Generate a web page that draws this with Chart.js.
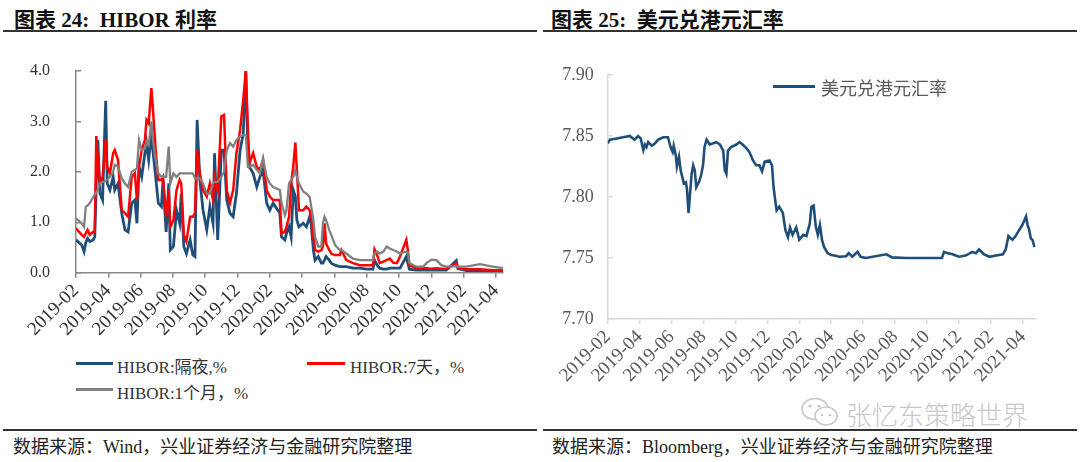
<!DOCTYPE html>
<html><head><meta charset="utf-8">
<script src="https://cdn.jsdelivr.net/npm/chart.js@4.4.1/dist/chart.umd.min.js"></script>
<style>
  html,body{margin:0;padding:0;background:#fff;}
  body{width:1080px;height:462px;position:relative;overflow:hidden;font-family:"Liberation Serif","Noto Sans CJK SC",serif;}
  .abs{position:absolute;white-space:nowrap;}
  .title{font-size:21px;font-weight:bold;color:#111;top:3px;}
  .hr{position:absolute;height:2px;background:#333;}
  .src{font-size:18px;color:#222;top:432px;}
  .leg{font-size:17px;color:#333;}
  .sw{position:absolute;height:3px;}
</style></head>
<body>
<div class="abs title" style="left:14px;">图表 24:&nbsp; HIBOR 利率</div>
<div class="abs title" style="left:551px;">图表 25:&nbsp; 美元兑港元汇率</div>
<div class="hr" style="left:3px;width:534px;top:30px;"></div>
<div class="hr" style="left:543px;width:534px;top:30px;"></div>
<div class="hr" style="left:3px;width:534px;top:429px;"></div>
<div class="hr" style="left:543px;width:534px;top:429px;"></div>
<div class="abs src" style="left:13px;">数据来源：Wind，兴业证券经济与金融研究院整理</div>
<div class="abs src" style="left:552px;">数据来源：Bloomberg，兴业证券经济与金融研究院整理</div>

<div style="position:absolute;left:0;top:50px;width:540px;height:300px;"><canvas id="c1" width="540" height="300"></canvas></div>
<div style="position:absolute;left:540px;top:50px;width:540px;height:340px;"><canvas id="c2" width="540" height="340"></canvas></div>

<div class="sw" style="left:76px;top:362px;width:37px;background:#1F4E79;"></div>
<div class="abs leg" style="left:117px;top:353px;">HIBOR:隔夜,%</div>
<div class="sw" style="left:307px;top:362px;width:38px;background:#FF0000;"></div>
<div class="abs leg" style="left:350px;top:353px;">HIBOR:7天，%</div>
<div class="sw" style="left:76px;top:388px;width:37px;background:#808080;"></div>
<div class="abs leg" style="left:117px;top:379px;">HIBOR:1个月，%</div>

<div class="sw" style="left:773px;top:85px;width:42px;background:#1F4E79;"></div>
<div class="abs" style="left:821px;top:74px;font-size:18px;color:#595959;">美元兑港元汇率</div>

<svg class="abs" style="left:800px;top:396px;" width="42" height="34" viewBox="0 0 42 34">
  <ellipse cx="15" cy="13" rx="13" ry="10.5" fill="#fff" stroke="#c8c8c8" stroke-width="1.6"/>
  <ellipse cx="26" cy="20" rx="11" ry="9" fill="#fff" stroke="#c8c8c8" stroke-width="1.6"/>
  <circle cx="10" cy="10" r="1.6" fill="#c8c8c8"/><circle cx="19" cy="10" r="1.6" fill="#c8c8c8"/>
  <circle cx="22" cy="19" r="1.3" fill="#c8c8c8"/><circle cx="30" cy="19" r="1.3" fill="#c8c8c8"/>
</svg>
<div class="abs" style="left:846px;top:395px;font-size:26px;color:#c8c8c8;font-family:'Noto Sans CJK SC';font-weight:300;">张忆东策略世界</div>

<script>
// ---------- data ----------
const xTickLabels = ["2019-02","2019-04","2019-06","2019-08","2019-10","2019-12","2020-02","2020-04","2020-06","2020-08","2020-10","2020-12","2021-02","2021-04"];
const xTickValues = [0,2,4,6,8,10,12,14,16,18,20,22,24,26];

const hiborDates = ["2019-02-01","2019-02-11","2019-02-15","2019-02-18","2019-02-21","2019-02-25","2019-03-03","2019-03-06","2019-03-09","2019-03-12","2019-03-16","2019-03-21","2019-03-27","2019-03-30","2019-04-04","2019-04-10","2019-04-13","2019-04-19","2019-04-26","2019-05-02","2019-05-08","2019-05-15","2019-05-21","2019-05-25","2019-05-29","2019-06-03","2019-06-09","2019-06-12","2019-06-16","2019-06-21","2019-06-24","2019-06-29","2019-07-04","2019-07-10","2019-07-13","2019-07-19","2019-07-24","2019-07-27","2019-08-02","2019-08-08","2019-08-14","2019-08-17","2019-08-22","2019-08-27","2019-09-03","2019-09-08","2019-09-12","2019-09-16","2019-09-21","2019-09-27","2019-10-04","2019-10-10","2019-10-16","2019-10-19","2019-10-25","2019-11-01","2019-11-06","2019-11-11","2019-11-17","2019-11-23","2019-11-29","2019-12-06","2019-12-12","2019-12-17","2019-12-21","2019-12-24","2019-12-31","2020-01-07","2020-01-13","2020-01-19","2020-01-26","2020-02-01","2020-02-07","2020-02-19","2020-02-22","2020-02-28","2020-03-02","2020-03-07","2020-03-11","2020-03-15","2020-03-19","2020-03-22","2020-03-26","2020-04-03","2020-04-09","2020-04-15","2020-04-18","2020-04-22","2020-04-25","2020-05-01","2020-05-07","2020-05-10","2020-05-13","2020-05-16","2020-05-22","2020-05-26","2020-06-02","2020-06-11","2020-06-14","2020-06-23","2020-07-06","2020-07-19","2020-08-01","2020-08-13","2020-08-16","2020-08-21","2020-08-26","2020-09-02","2020-09-08","2020-09-14","2020-09-20","2020-09-27","2020-10-03","2020-10-15","2020-10-18","2020-10-21","2020-11-03","2020-11-16","2020-11-22","2020-12-01","2020-12-11","2020-12-20","2020-12-30","2021-01-18","2021-01-21","2021-02-06","2021-03-01","2021-03-26","2021-04-14"];
const hiborON = [0.65,0.55,0.42,0.60,0.68,0.62,0.65,0.71,1.80,2.63,1.57,1.44,3.41,1.77,1.64,1.90,1.64,1.77,1.18,0.85,0.81,1.38,1.44,0.98,2.10,1.90,2.37,2.57,2.24,2.76,2.40,1.90,1.38,1.31,1.84,0.81,1.77,0.45,0.52,1.24,0.98,1.57,0.52,0.38,0.65,0.35,0.32,3.03,1.84,1.24,0.85,1.31,0.98,2.37,0.65,2.43,2.43,1.44,1.18,1.11,1.57,2.43,2.76,4.00,2.40,2.10,1.97,1.70,1.90,2.04,1.38,1.24,1.38,1.18,0.71,0.65,0.78,0.91,0.71,1.64,1.51,1.04,0.91,0.98,0.91,1.11,0.95,0.45,0.25,0.32,0.19,0.19,0.25,0.32,0.25,0.19,0.15,0.12,0.12,0.12,0.09,0.09,0.07,0.07,0.25,0.15,0.09,0.07,0.07,0.09,0.09,0.09,0.09,0.32,0.19,0.07,0.05,0.05,0.05,0.05,0.05,0.05,0.05,0.24,0.08,0.04,0.04,0.04,0.04];
const hibor7D = [0.88,0.75,0.71,0.78,0.85,0.75,0.81,0.81,2.71,2.20,1.77,1.90,2.63,2.10,1.97,2.37,2.43,2.24,1.24,1.18,1.11,1.90,1.97,1.44,2.10,2.43,2.63,3.03,2.96,3.66,3.23,2.43,1.84,1.84,1.90,1.11,1.64,0.91,1.04,1.64,1.84,1.77,0.75,0.62,1.11,1.11,1.18,2.43,1.97,1.64,1.51,1.77,1.44,1.90,1.64,3.10,3.13,1.64,1.38,1.64,2.37,2.83,3.43,4.00,2.83,2.17,2.37,2.10,2.04,2.24,1.64,1.51,1.44,1.44,0.78,0.81,0.91,1.11,1.77,2.10,2.58,2.04,1.24,1.24,1.31,1.24,1.11,0.71,0.45,0.42,0.45,0.52,0.98,0.58,0.45,0.38,0.35,0.35,0.45,0.25,0.19,0.15,0.15,0.15,0.46,0.35,0.19,0.22,0.25,0.28,0.20,0.19,0.32,0.65,0.45,0.15,0.09,0.09,0.09,0.08,0.09,0.08,0.08,0.18,0.10,0.07,0.07,0.05,0.05];
const hibor1M = [1.08,0.98,0.91,1.31,1.33,1.38,1.50,1.55,1.60,1.65,1.77,1.80,1.82,1.84,1.90,2.00,2.14,2.10,1.87,1.77,1.70,2.00,2.04,2.07,2.63,2.43,2.46,2.60,2.53,3.00,2.63,2.24,1.97,1.90,1.90,1.90,2.50,1.77,1.97,1.90,1.97,1.97,1.97,1.97,1.97,1.97,1.87,1.87,1.87,1.77,1.57,1.57,1.77,1.80,1.80,1.90,2.00,2.43,2.57,2.50,2.63,2.70,2.73,2.73,2.10,2.10,2.14,2.04,1.97,2.27,1.90,1.77,1.70,1.64,1.38,1.14,1.24,1.77,1.84,1.90,2.04,1.90,1.77,1.61,1.57,1.50,1.31,1.04,0.71,0.52,0.52,0.98,1.11,1.04,0.85,0.75,0.55,0.45,0.45,0.38,0.28,0.25,0.25,0.25,0.38,0.42,0.38,0.42,0.52,0.48,0.45,0.42,0.38,0.42,0.40,0.19,0.12,0.12,0.19,0.26,0.25,0.15,0.12,0.13,0.12,0.12,0.17,0.12,0.09];

const fxDates = ["2019-02-01","2019-02-05","2019-02-17","2019-02-28","2019-03-13","2019-03-22","2019-03-29","2019-04-03","2019-04-08","2019-04-11","2019-04-14","2019-04-17","2019-04-24","2019-04-30","2019-05-06","2019-05-16","2019-05-25","2019-05-30","2019-06-03","2019-06-05","2019-06-09","2019-06-11","2019-06-15","2019-06-18","2019-06-22","2019-06-24","2019-06-28","2019-06-30","2019-07-03","2019-07-05","2019-07-09","2019-07-12","2019-07-15","2019-07-18","2019-07-24","2019-07-28","2019-07-31","2019-08-03","2019-08-07","2019-08-13","2019-08-20","2019-08-26","2019-09-02","2019-09-08","2019-09-11","2019-09-14","2019-09-17","2019-09-23","2019-10-03","2019-10-09","2019-10-15","2019-10-22","2019-10-28","2019-11-04","2019-11-10","2019-11-16","2019-11-21","2019-11-26","2019-12-05","2019-12-10","2019-12-13","2019-12-17","2019-12-19","2019-12-24","2019-12-31","2020-01-05","2020-01-10","2020-01-14","2020-01-19","2020-01-26","2020-02-01","2020-02-08","2020-02-14","2020-02-17","2020-02-20","2020-02-23","2020-02-27","2020-03-02","2020-03-06","2020-03-10","2020-03-14","2020-03-18","2020-03-25","2020-04-01","2020-04-07","2020-04-16","2020-04-29","2020-05-04","2020-05-11","2020-05-21","2020-05-27","2020-06-06","2020-07-15","2020-07-26","2020-08-22","2020-10-11","2020-10-30","2020-11-03","2020-11-09","2020-11-19","2020-12-01","2020-12-14","2020-12-27","2021-01-03","2021-01-09","2021-01-19","2021-01-29","2021-02-10","2021-02-22","2021-02-27","2021-03-04","2021-03-09","2021-03-12","2021-03-18","2021-03-25","2021-03-31","2021-04-07","2021-04-10","2021-04-13","2021-04-16","2021-04-19","2021-04-23"];
const fxValues = [7.844,7.847,7.848,7.849,7.850,7.847,7.850,7.848,7.8385,7.843,7.841,7.845,7.842,7.844,7.847,7.849,7.849,7.841,7.837,7.842,7.834,7.825,7.833,7.822,7.815,7.811,7.812,7.806,7.787,7.798,7.819,7.826,7.822,7.808,7.813,7.819,7.826,7.841,7.847,7.843,7.844,7.845,7.843,7.838,7.822,7.819,7.838,7.841,7.843,7.845,7.843,7.840,7.837,7.830,7.826,7.826,7.821,7.829,7.830,7.826,7.808,7.795,7.789,7.792,7.787,7.773,7.767,7.775,7.769,7.775,7.765,7.769,7.768,7.773,7.778,7.792,7.793,7.776,7.769,7.777,7.765,7.759,7.754,7.7525,7.752,7.751,7.7515,7.754,7.751,7.755,7.751,7.750,7.753,7.7505,7.750,7.750,7.750,7.755,7.754,7.753,7.751,7.752,7.755,7.754,7.757,7.753,7.751,7.752,7.753,7.757,7.768,7.766,7.765,7.768,7.773,7.777,7.784,7.777,7.773,7.766,7.765,7.759];

// ---------- helpers ----------
function monthPos(s){
  const p = s.split('-').map(Number);
  const dim = new Date(p[0], p[1], 0).getDate();
  return (p[0]-2019)*12 + (p[1]-2) + (p[2]-1)/dim;
}
function pts(dates, vals){ return dates.map((d,i)=>({x:monthPos(d), y:vals[i]})); }
const TICKFONT = '"Liberation Serif","Noto Sans CJK SC",serif';

function xScale(max, col, axisCol, h){
  return {
    type:'linear', min:0, max:max,
    afterBuildTicks: s => { s.ticks = xTickValues.map(v=>({value:v})); },
    afterFit: a => { a.height = h; },
    ticks:{ autoSkip:false, minRotation:45, maxRotation:45, padding:2,
      callback:(v)=>{ const i = xTickValues.indexOf(v); return i>=0 ? xTickLabels[i] : ''; },
      font:{family:TICKFONT, size:19}, color:col },
    grid:{ drawOnChartArea:false, drawTicks:true, tickLength:5, color:axisCol, lineWidth:1.5 },
    border:{ display:true, color:axisCol, width:1.5 }
  };
}
function yFit(w){ return a => { a.width = w; a.paddingTop = 0; a.paddingBottom = 0; }; }

// ---------- chart 1: HIBOR ----------
new Chart(document.getElementById('c1'), {
  type:'line',
  data:{ datasets:[
    {label:'HIBOR:隔夜,%', data:pts(hiborDates,hiborON), borderColor:'#1F4E79', borderWidth:2.8, pointRadius:0, tension:0, order:2},
    {label:'HIBOR:7天，%', data:pts(hiborDates,hibor7D), borderColor:'#FF0000', borderWidth:2.5, pointRadius:0, tension:0, order:1},
    {label:'HIBOR:1个月，%', data:pts(hiborDates,hibor1M), borderColor:'#808080', borderWidth:2.3, pointRadius:0, tension:0, order:0}
  ]},
  options:{
    responsive:false, animation:false, events:[],
    layout:{padding:{left:0,right:37,top:21,bottom:0}},
    plugins:{legend:{display:false}, tooltip:{enabled:false}},
    scales:{
      x: xScale(26.44, '#333', '#888', 77.3),
      y: { min:0, max:4,
        afterFit: yFit(76),
        ticks:{ stepSize:1, padding:31, callback:v=>v.toFixed(1), font:{family:TICKFONT, size:16}, color:'#333' },
        grid:{ drawOnChartArea:false, drawTicks:true, tickLength:-5, color:'#888', lineWidth:1.5 },
        border:{ display:true, color:'#888', width:1.5 } }
    }
  }
});

// ---------- chart 2: USD/HKD ----------
new Chart(document.getElementById('c2'), {
  type:'line',
  data:{ datasets:[
    {label:'美元兑港元汇率', data:pts(fxDates,fxValues), borderColor:'#1F4E79', borderWidth:2.6, pointRadius:0, tension:0}
  ]},
  options:{
    responsive:false, animation:false, events:[],
    layout:{padding:{left:0,right:44.4,top:25,bottom:0}},
    plugins:{legend:{display:false}, tooltip:{enabled:false}},
    scales:{
      x: xScale(26.8, '#595959', '#d9d9d9', 71),
      y: { min:7.70, max:7.90,
        afterFit: yFit(67.7),
        ticks:{ stepSize:0.05, padding:19, callback:v=>v.toFixed(2), font:{family:TICKFONT, size:18}, color:'#595959' },
        grid:{ drawOnChartArea:false, drawTicks:true, tickLength:-5, color:'#d9d9d9', lineWidth:1.5 },
        border:{ display:true, color:'#d9d9d9', width:1.5 } }
    }
  }
});
</script>
</body></html>
